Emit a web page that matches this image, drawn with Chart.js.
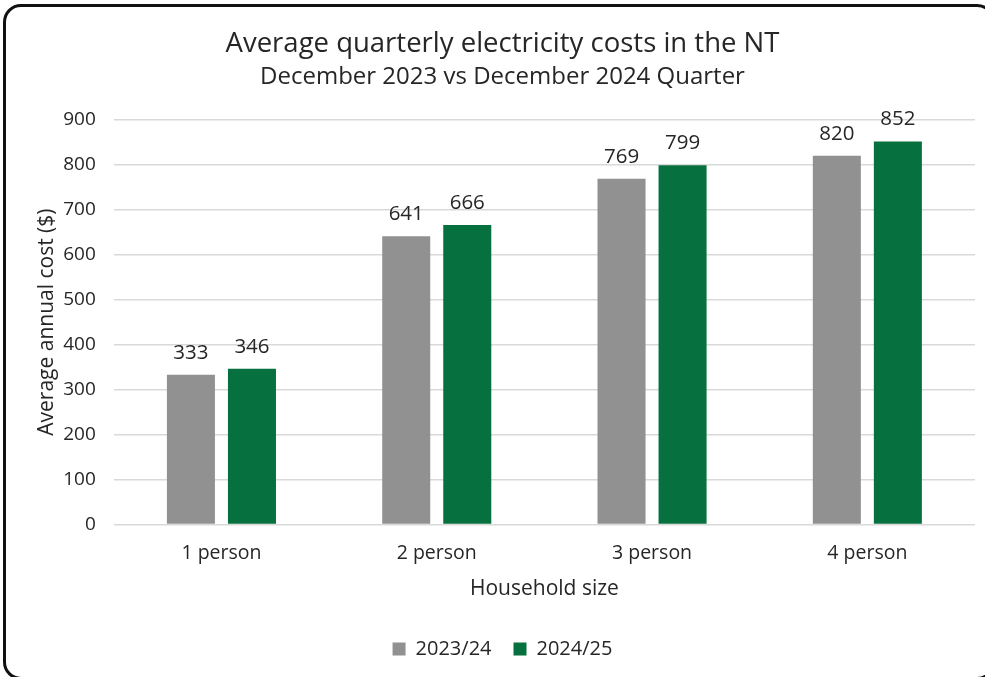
<!DOCTYPE html>
<html>
<head>
<meta charset="utf-8">
<script src="https://cdn.jsdelivr.net/npm/chart.js@4.4.1/dist/chart.umd.min.js"></script>
<style>
  html, body { margin: 0; padding: 0; background: #fff; }
  body { width: 985px; height: 677px; position: relative; overflow: hidden; }
  #frame { position: absolute; left: 3px; top: 4px; width: 992px; height: 676px;
           border: 3px solid #111; border-radius: 18px; box-sizing: border-box; }
  #wrap { position: absolute; left: 0; top: 0; width: 985px; height: 677px; }
</style>
</head>
<body>
<div id="frame"></div>
<div id="wrap"><canvas id="costChart"></canvas></div>
<script>
// chart data
const categories = ['1 person', '2 person', '3 person', '4 person'];
const costs2023 = [333, 641, 769, 820];
const costs2024 = [346, 666, 799, 852];
const seriesNames = ['2023/24', '2024/25'];
const yTicks = [0, 100, 200, 300, 400, 500, 600, 700, 800, 900];

const FONT = "'Open Sans', 'Noto Sans', sans-serif";
const TEXT = '#262626';

// value labels above each bar
const barLabels = {
    id: 'barLabels',
    afterDatasetsDraw(chart) {
        const ctx = chart.ctx;
        ctx.save();
        ctx.font = '20.5px ' + FONT;
        ctx.fillStyle = TEXT;
        ctx.textAlign = 'center';
        ctx.textBaseline = 'middle';
        chart.data.datasets.forEach(function (ds, i) {
            chart.getDatasetMeta(i).data.forEach(function (bar, j) {
                ctx.fillText(ds.data[j], bar.x, bar.y - 22);
            });
        });
        ctx.restore();
    }
};

const ctxCost = document.getElementById('costChart').getContext('2d');
const costChart = new Chart(ctxCost, {
    type: 'bar',
    data: {
        labels: categories,
        datasets: [
            { label: seriesNames[0], data: costs2023, backgroundColor: '#919191' },
            { label: seriesNames[1], data: costs2024, backgroundColor: '#07703F' }
        ]
    },
    options: {
        responsive: true,
        maintainAspectRatio: false,
        animation: false,
        categoryPercentage: 0.567,
        barPercentage: 0.787,
        layout: { padding: { left: 30, right: 10, top: 22, bottom: 8 } },
        plugins: {
            title: {
                display: true,
                text: 'Average quarterly electricity costs in the NT',
                color: TEXT,
                font: { family: FONT, size: 27.5, weight: 'normal' },
                padding: { top: 6, bottom: 2 }
            },
            subtitle: {
                display: true,
                text: 'December 2023 vs December 2024 Quarter',
                color: TEXT,
                font: { family: FONT, size: 24, weight: 'normal' },
                padding: { top: 0, bottom: 28 }
            },
            legend: {
                position: 'bottom',
                labels: {
                    color: TEXT,
                    font: { family: FONT, size: 20 },
                    boxWidth: 13, boxHeight: 13, padding: 22
                }
            },
            tooltip: { enabled: false }
        },
        scales: {
            x: {
                grid: { display: false },
                border: { display: false },
                ticks: { color: TEXT, font: { family: FONT, size: 19.5 }, padding: 9 },
                title: {
                    display: true, text: 'Household size', color: TEXT,
                    font: { family: FONT, size: 21 }, padding: { top: 3, bottom: 15 }
                }
            },
            y: {
                min: 0, max: 900,
                afterBuildTicks: function (axis) { axis.ticks = yTicks.map(v => ({ value: v })); },
                grid: { color: '#d9d9d9', lineWidth: 1.5, drawTicks: false },
                border: { display: false },
                ticks: { color: TEXT, font: { family: FONT, size: 19 }, padding: 18 },
                title: {
                    display: true, text: 'Average annual cost ($)', color: TEXT,
                    font: { family: FONT, size: 21 }, padding: { top: 4, bottom: -14 }
                }
            }
        }
    },
    plugins: [barLabels]
});
</script>
</body>
</html>
